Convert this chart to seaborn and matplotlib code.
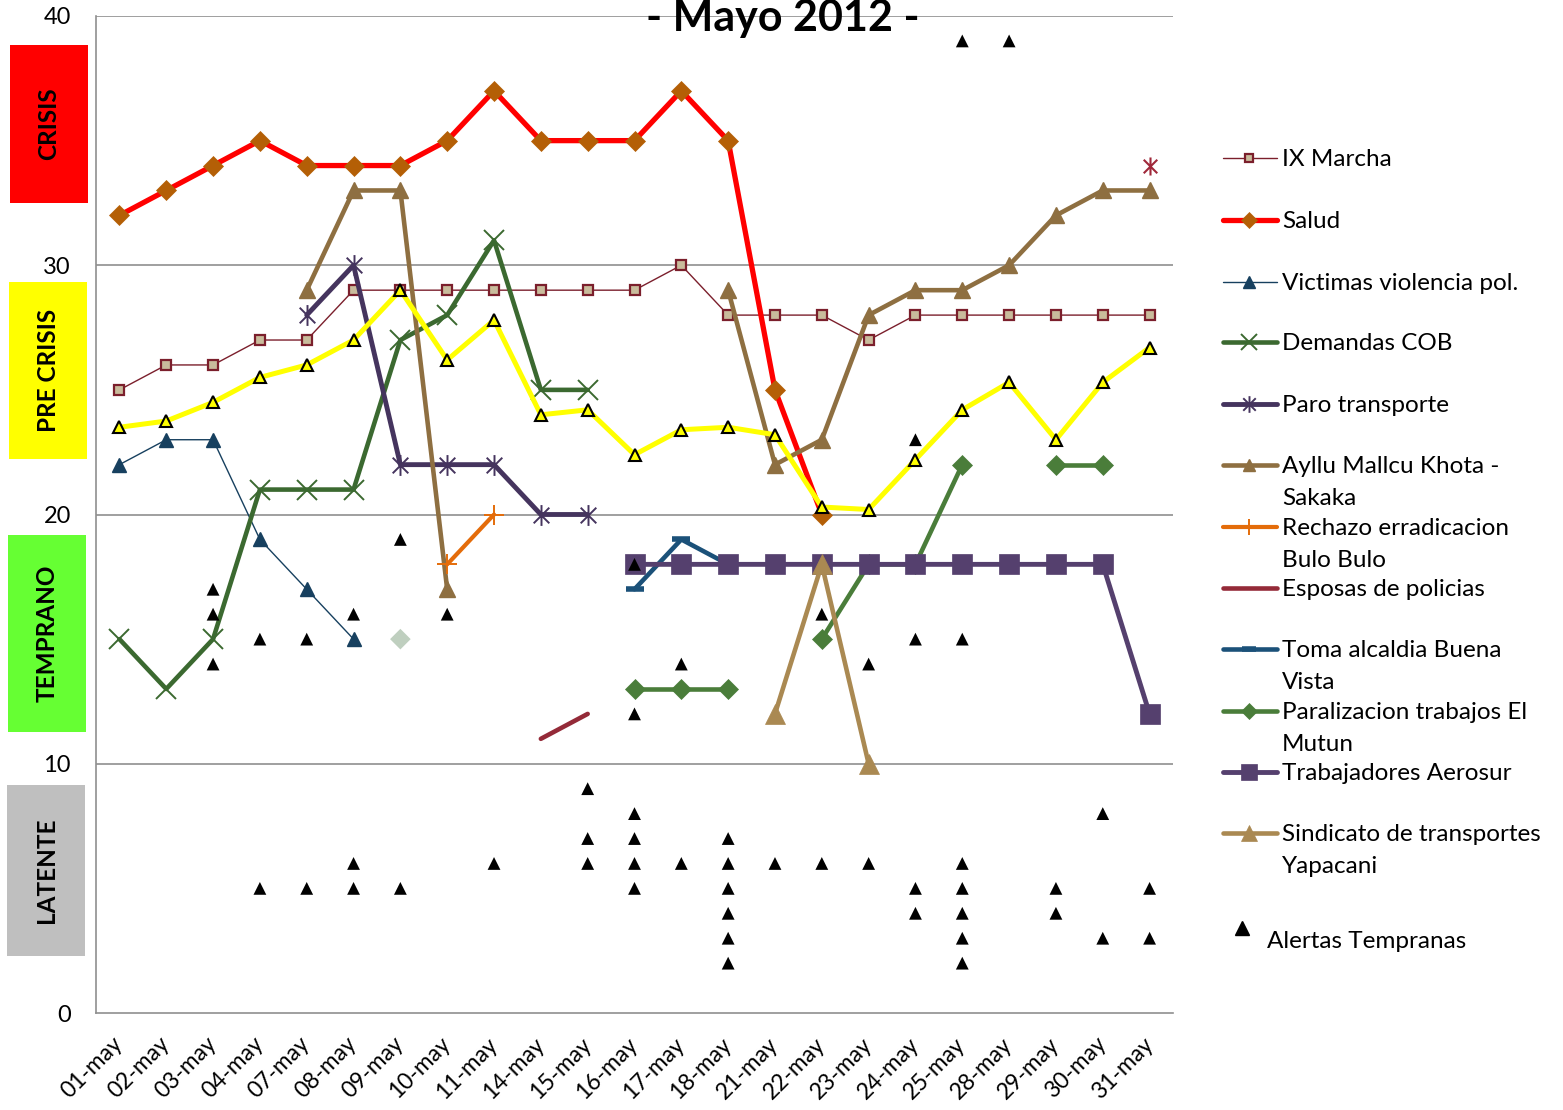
import numpy as np
import pandas as pd
import matplotlib
matplotlib.use("Agg")
import matplotlib.pyplot as plt
import seaborn as sns
from matplotlib.path import Path
from matplotlib.patches import Rectangle

nan = np.nan

dates = ["01-may", "02-may", "03-may", "04-may", "07-may", "08-may", "09-may",
         "10-may", "11-may", "14-may", "15-may", "16-may", "17-may", "18-may",
         "21-may", "22-may", "23-may", "24-may", "25-may", "28-may", "29-may",
         "30-may", "31-may"]

ix_marcha = [25, 26, 26, 27, 27, 29, 29, 29, 29, 29, 29, 29, 30, 28, 28, 28, 27, 28, 28, 28, 28, 28, 28]
salud = [32, 33, 34, 35, 34, 34, 34, 35, 37, 35, 35, 35, 37, 35, 25, 20, nan, nan, nan, nan, nan, nan, nan]
victimas = [22, 23, 23, 19, 17, 15, nan, nan, nan, nan, nan, nan, nan, nan, nan, nan, nan, nan, nan, nan, nan, nan, nan]
demandas_cob = [15, 13, 15, 21, 21, 21, 27, 28, 31, 25, 25, nan, nan, nan, nan, nan, nan, nan, nan, nan, nan, nan, nan]
paro_transporte = [nan, nan, nan, nan, 28, 30, 22, 22, 22, 20, 20, nan, nan, nan, nan, nan, nan, nan, nan, nan, nan, nan, nan]
ayllu = [nan, nan, nan, nan, 29, 33, 33, 17, nan, nan, nan, nan, nan, 29, 22, 23, 28, 29, 29, 30, 32, 33, 33]
rechazo = [nan, nan, nan, nan, nan, nan, nan, 18, 20, nan, nan, nan, nan, nan, nan, nan, nan, nan, nan, nan, nan, nan, nan]
esposas = [nan, nan, nan, nan, nan, nan, nan, nan, nan, 11, 12, nan, nan, nan, nan, nan, nan, nan, nan, nan, nan, nan, nan]
toma_alcaldia = [nan, nan, nan, nan, nan, nan, nan, nan, nan, nan, nan, 17, 19, 18, nan, nan, nan, nan, nan, nan, nan, nan, nan]
paralizacion = [nan, nan, nan, nan, nan, nan, nan, nan, nan, nan, nan, 13, 13, 13, nan, 15, 18, 18, 22, nan, 22, 22, nan]
aerosur = [nan, nan, nan, nan, nan, nan, nan, nan, nan, nan, nan, 18, 18, 18, 18, 18, 18, 18, 18, 18, 18, 18, 12]
sindicato = [nan, nan, nan, nan, nan, nan, nan, nan, nan, nan, nan, nan, nan, nan, 12, 18, 10, nan, nan, nan, nan, nan, nan]
promedio = [23.5, 23.75, 24.5, 25.5, 26, 27, 29, 26.2, 27.8, 24.0, 24.2, 22.4, 23.4, 23.5, 23.2,
            20.3, 20.2, 22.2, 24.2, 25.3, 23.0, 25.3, 26.7]

# isolated points
extra_diamond_date = ["09-may"]
extra_diamond_value = [15]
extra_star_date = ["31-may"]
extra_star_value = [34]

# Alertas tempranas
alert_dates = (["03-may"] * 3 + ["04-may"] * 2 + ["07-may"] * 2 + ["08-may"] * 3 + ["09-may"] * 2 +
               ["10-may"] + ["11-may"] + ["15-may"] * 3 + ["16-may"] * 6 + ["17-may"] * 2 +
               ["18-may"] * 6 + ["21-may"] + ["22-may"] * 2 + ["23-may"] * 2 + ["24-may"] * 4 +
               ["25-may"] * 7 + ["28-may"] + ["29-may"] * 2 + ["30-may"] * 2 + ["31-may"] * 2)
alert_values = ([17, 16, 14] + [15, 5] + [15, 5] + [16, 6, 5] + [19, 5] +
                [16] + [6] + [9, 7, 6] + [18, 12, 8, 7, 6, 5] + [14, 6] +
                [7, 6, 5, 4, 3, 2] + [6] + [16, 6] + [14, 6] + [23, 15, 5, 4] +
                [39, 15, 6, 5, 4, 3, 2] + [39] + [5, 4] + [8, 3] + [5, 3])

zone_labels = ["CRISIS", "PRE CRISIS", "TEMPRANO", "LATENTE"]

legend_labels = ["IX Marcha", "Salud", "Victimas violencia pol.", "Demandas COB",
                 "Paro transporte", "Ayllu Mallcu Khota -\nSakaka",
                 "Rechazo erradicacion\nBulo Bulo", "Esposas de policias",
                 "Toma alcaldia Buena\nVista", "Paralizacion trabajos El\nMutun",
                 "Trabajadores Aerosur", "Sindicato de transportes\nYapacani"]

# ---------------------------------------------------------------------------
sns.set_style("white")
plt.rcParams["font.family"] = ["Lato", "DejaVu Sans"]
plt.rcParams["text.color"] = "black"
plt.rcParams["xtick.color"] = "black"
plt.rcParams["ytick.color"] = "black"
plt.rcParams["axes.labelcolor"] = "black"

W, H = 1563, 1110
fig = plt.figure(figsize=(W / 100, H / 100), dpi=100)
ax = fig.add_axes([96 / W, 1 - 1013 / H, (1173 - 96) / W, (1013 - 16) / H])

idx = {d: i for i, d in enumerate(dates)}
xs = np.arange(len(dates))

asterisk = Path([(0, -1), (0, 1), (-0.75, -0.75), (0.75, 0.75), (-0.75, 0.75), (0.75, -0.75)],
                [Path.MOVETO, Path.LINETO, Path.MOVETO, Path.LINETO, Path.MOVETO, Path.LINETO])

styles = {}


def draw(name, values, color, lw, marker=None, ms=0, mfc=None, mec=None, mew=1.0, z=2):
    df = pd.DataFrame({"x": xs, "y": values})
    df["seg"] = df["y"].isna().cumsum()
    df = df.dropna()
    sns.lineplot(data=df, x="x", y="y", units="seg", estimator=None, sort=False,
                 color=color, lw=lw, marker=marker if marker is not None else "",
                 markersize=ms,
                 markerfacecolor=mfc if mfc is not None else color,
                 markeredgecolor=mec if mec is not None else color,
                 markeredgewidth=mew, ax=ax, zorder=z, legend=False)
    styles[name] = dict(color=color, lw=lw, marker=marker, ms=ms,
                        mfc=mfc if mfc is not None else color,
                        mec=mec if mec is not None else color, mew=mew)


draw("IX Marcha", ix_marcha, "#7B1F2C", 1.0, "s", 7, mfc="#C9BC9C", mec="#7B1F2C", mew=1.6, z=3)
draw("Salud", salud, "#FF0000", 3.8, "D", 10.5, mfc="#B45F06", mec="#B45F06", mew=0.5, z=4)
draw("Victimas violencia pol.", victimas, "#17405F", 1.0, "^", 10, z=3)
draw("Demandas COB", demandas_cob, "#3B6930", 3.3, "x", 15, mew=1.4, z=5)
draw("Paro transporte", paro_transporte, "#45345E", 3.5, asterisk, 15, mew=1.4, z=5)
draw("Ayllu Mallcu Khota -\nSakaka", ayllu, "#8E6F41", 3.3, "^", 11, z=5)
draw("Rechazo erradicacion\nBulo Bulo", rechazo, "#E46C0A", 3.0, "+", 15, mew=1.4, z=5)
draw("Esposas de policias", esposas, "#942A38", 3.3, None, 0, z=5)
draw("Toma alcaldia Buena\nVista", toma_alcaldia, "#1B5179", 3.3, "_", 13, mew=4, z=5)
draw("Paralizacion trabajos El\nMutun", paralizacion, "#4A7D3A", 3.3, "D", 10, mew=0.5, z=6)
draw("Trabajadores Aerosur", aerosur, "#55406E", 3.5, "s", 15, mew=0.5, z=7)
draw("Sindicato de transportes\nYapacani", sindicato, "#AA8952", 3.3, "^", 15, mew=0.5, z=8)
draw("promedio", promedio, "#FFFF00", 3.6, "^", 9, mfc="#FFFF00", mec="black", mew=1.5, z=9)

sns.scatterplot(x=[idx[d] for d in extra_diamond_date], y=extra_diamond_value, marker="D",
                s=110, color="#BFCFBF", edgecolor="none", ax=ax, zorder=6, legend=False)
ax.plot([idx[d] for d in extra_star_date], extra_star_value, ls="none", marker=asterisk,
        ms=13, mec="#A0283A", mew=1.5, zorder=6)

sns.scatterplot(x=[idx[d] for d in alert_dates], y=alert_values, marker="^", s=85,
                color="black", edgecolor="none", linewidth=0, ax=ax, zorder=10, legend=False)

ax.set_xlim(-0.5, len(dates) - 0.5)
ax.set_ylim(0, 40)
ax.set_xticks(xs)
ax.set_xticklabels(dates, rotation=45, ha="right", va="center", rotation_mode="anchor", fontsize=16.5)
ax.set_yticks([0, 10, 20, 30, 40])
ax.set_yticklabels(["0", "10", "20", "30", "40"], fontsize=17)
ax.tick_params(axis="x", length=0, pad=20)
ax.tick_params(axis="y", length=0, pad=18)
ax.set_xlabel("")
ax.set_ylabel("")
for y in [10, 20, 30, 40]:
    ax.axhline(y, color="#8F8F8F", lw=1.2, zorder=1)
for s in ["top", "right"]:
    ax.spines[s].set_visible(False)
for s in ["left", "bottom"]:
    ax.spines[s].set_color("#8F8F8F")
    ax.spines[s].set_linewidth(1.2)

# overlay in pixel coordinates for title, zone boxes and legend
lax = fig.add_axes([0, 0, 1, 1], facecolor="none")
lax.set_xlim(0, W)
lax.set_ylim(H, 0)
lax.axis("off")

lax.text(783, 31, "- Mayo 2012 -", ha="center", va="baseline", fontsize=31, fontweight="bold",
         color="black")

zones = [(10, 45, 78, 158, "#FF0000"), (9, 282, 78, 177, "#FFFF00"),
         (8, 535, 78, 197, "#66FF33"), (7, 785, 78, 171, "#BFBFBF")]
for (x0, y0, w, h, c), lab in zip(zones, zone_labels):
    lax.add_patch(Rectangle((x0, y0), w, h, facecolor=c, edgecolor="none"))
    lax.text(x0 + w / 2, y0 + h / 2, lab, rotation=90, ha="center", va="center",
             fontsize=17.5, fontweight="bold", color="black")

leg_y = [158, 220, 282, 342, 404, 465, 527, 588, 649, 711, 772, 833]
for lab, y in zip(legend_labels, leg_y):
    st = styles[lab]
    lax.plot([1223, 1277], [y, y], color=st["color"], lw=st["lw"], solid_capstyle="round")
    if st["marker"] is not None:
        lax.plot([1249], [y], ls="none", marker=st["marker"], ms=st["ms"] * 0.8,
                 mfc=st["mfc"], mec=st["mec"], mew=st["mew"])
    for k, line in enumerate(lab.split("\n")):
        lax.text(1282, y + 8 + 32 * k, line, ha="left", va="baseline", fontsize=17.5, color="black")

lax.plot([1242], [928], ls="none", marker="^", ms=10, color="black")
lax.text(1267, 948, "Alertas Tempranas", ha="left", va="baseline", fontsize=17.5, color="black")

fig.savefig("out.png", dpi=100)
